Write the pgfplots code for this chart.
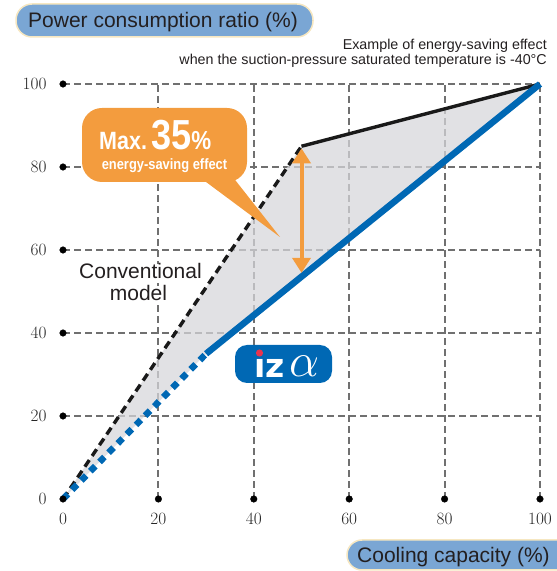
\documentclass[border=0pt]{standalone}
\usepackage{fontspec}
\setmainfont{Liberation Sans}
\newfontfamily\condfont[FakeStretch=0.86]{Liberation Sans}
\newfontfamily\dejavu{DejaVu Sans}
\usepackage{graphicx}
\usepackage{pgfplots}
\pgfplotsset{compat=1.18}
\usetikzlibrary{arrows.meta}
\definecolor{gridgray}{RGB}{112,112,112}
\definecolor{fillgray}{RGB}{214,214,218}
\definecolor{izblue}{RGB}{0,104,180}
\definecolor{callor}{RGB}{243,156,62}
\definecolor{boxblue}{RGB}{122,166,212}
\definecolor{boxedge}{RGB}{246,231,193}
\definecolor{txt}{RGB}{35,31,32}
\definecolor{izred}{RGB}{232,52,78}
\begin{document}
\begin{tikzpicture}[x=1pt,y=1pt]
\path[use as bounding box] (0,0) rectangle (557,571);
\begin{axis}[
  at={(63pt,72pt)}, anchor=south west,
  scale only axis, width=477pt, height=415pt,
  xmin=0, xmax=100, ymin=0, ymax=100,
  clip=false,
  axis line style={draw=none},
  major tick length=0pt,
  xtick={20,40,60,80,100}, ytick={20,40,60,80,100},
  extra x ticks={0}, extra y ticks={0},
  extra tick style={grid=none},
  grid=major,
  major grid style={gridgray, line width=2pt, dash pattern=on 7pt off 4pt},
  ticklabel style={font=\fontsize{17.5}{17.5}\selectfont, text=black!85},
  xticklabel style={yshift=-11pt},
  yticklabel style={xshift=-13pt},
]
% shaded saving area
\addplot[draw=none, fill=fillgray, fill opacity=0.73] coordinates {(0,0) (50,85) (100,100) (30,35)};
% conventional model
\addplot[black!90, line width=3.4pt, dash pattern=on 8pt off 5pt] coordinates {(0,0) (50,85)};
\addplot[black!90, line width=3.4pt] coordinates {(50,85) (100,100)};
% iz alpha
\addplot[izblue, line width=6.5pt, dash pattern=on 7pt off 6pt] coordinates {(0,0) (30,35)};
\addplot[izblue, line width=6.5pt] coordinates {(30,35) (100,100)};
% saving arrow
\addplot[callor, line width=4pt, {Triangle[width=18pt,length=15pt]}-{Triangle[width=18pt,length=15pt]}] coordinates {(50,84.5) (50,54.5)};
% tick dots
\addplot[only marks, mark=*, mark size=3.3pt, black] coordinates {(0,0) (0,20) (0,40) (0,60) (0,80) (0,100) (20,0) (40,0) (60,0) (80,0) (100,0)};
\end{axis}
% title boxes
\draw[boxedge, line width=1.5pt, fill=boxblue, rounded corners=16pt] (16,534) rectangle (313,567);
\node[anchor=base west, inner sep=0, text=txt, font=\fontsize{21}{21}\selectfont] at (28,543) {Power consumption ratio (\%)};
\draw[boxedge, line width=1.5pt, fill=boxblue, rounded corners=15pt] (347,1) rectangle (590,31);
\node[anchor=base west, inner sep=0, text=txt, font=\fontsize{21}{21}\selectfont] at (357,9) {Cooling capacity (\%)};
% note
\node[anchor=base east, inner sep=0, text=txt, font=\fontsize{14.3}{14.3}\selectfont] at (547,521) {Example of energy-saving effect};
\node[anchor=base east, inner sep=0, text=txt, font=\fontsize{14.3}{14.3}\selectfont] at (547,506) {when the suction-pressure saturated temperature is -40°C};
% callout
\fill[callor] (198,395) -- (232,395) -- (280,334) -- cycle;
\fill[callor, rounded corners=20pt] (82,389) rectangle (247,463);
\node[anchor=base west, inner sep=0, text=white, font=\condfont\bfseries] at (99,421) {\fontsize{25}{25}\selectfont Max.\,\fontsize{42}{42}\selectfont 35\fontsize{26}{26}\selectfont\%};
\node[anchor=base, inner sep=0, text=white, font=\condfont\bfseries\fontsize{15}{15}\selectfont] at (164.5,401) {energy-saving effect};
% conventional label
\node[anchor=base, inner sep=0pt, text=txt, font=\fontsize{21}{21}\selectfont, fill=white] at (140.5,292) {Conventional};
\node[anchor=base, inner sep=0pt, text=txt, font=\fontsize{21}{21}\selectfont, fill=white] at (138.5,270) {model};
% iz alpha badge
\fill[izblue, rounded corners=12pt] (235,188) rectangle (332,226);
\node[anchor=base west, inner sep=0, text=white, font=\dejavu\bfseries\fontsize{33}{33}\selectfont] at (254,193) {\i z};
\fill[izred] (259.5,218) circle (3.6pt);
\node[anchor=base west, inner sep=0, text=white] at (289,194) {\scalebox{2.3}{\fontsize{20}{20}\selectfont$\alpha$}};
\end{tikzpicture}
\end{document}
